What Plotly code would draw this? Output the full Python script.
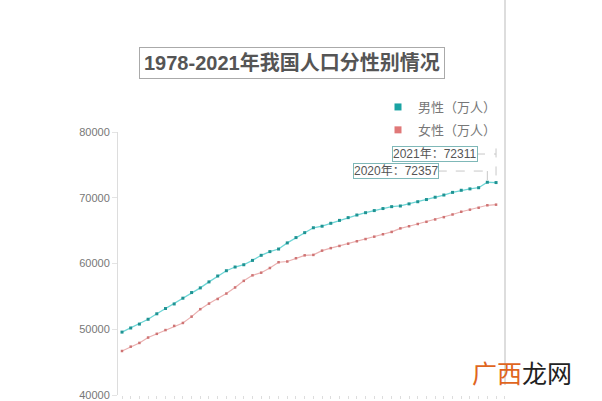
import plotly.graph_objects as go

years = list(range(1978, 2022))
male = [49567, 50192, 50785, 51519, 52352, 53152, 53848, 54725, 55581, 56290,
        57201, 58099, 58904, 59466, 59811, 60472, 61246, 61808, 62200, 63131,
        63940, 64692, 65437, 65672, 66115, 66556, 66976, 67375, 67728, 68048,
        68357, 68647, 68748, 69068, 69395, 69728, 70079, 70414, 70815, 71137,
        71351, 71527, 72357, 72311]
female = [46692, 47350, 47920, 48737, 49302, 49875, 50509, 50958, 51919, 53054,
          53903, 54605, 55429, 56357, 57360, 58199, 58604, 59315, 60192, 60303,
          60800, 61244, 61306, 61955, 62338, 62671, 63012, 63381, 63720, 64081,
          64445, 64803, 65343, 65667, 66009, 66344, 66703, 67048, 67456, 67871,
          68187, 68478, 68855, 68949]
series_names = ["男性（万人）", "女性（万人）"]
title_text = "1978-2021年我国人口分性别情况"
y_ticks = [40000, 50000, 60000, 70000, 80000]

FONT = "Liberation Sans, Noto Sans CJK SC, sans-serif"
CJK = "Noto Sans CJK SC, sans-serif"
MALE_LINE, MALE_MK = "#6fd6d6", "#1f9393"
FEM_LINE, FEM_MK = "#eab0b0", "#cf7474"

TOP, BOT = 132, 395
H = BOT - TOP
LEFT, RIGHT = 118, 505
W = RIGHT - LEFT


def px(xp):
    return (xp - LEFT) / W


def py(yp):
    return (BOT - yp) / H


fig = go.Figure()
fig.add_trace(go.Scatter(x=years, y=male, mode="lines+markers", showlegend=False,
                         line=dict(color=MALE_LINE, width=1.3),
                         marker=dict(color=MALE_MK, size=3, symbol="square")))
fig.add_trace(go.Scatter(x=years, y=female, mode="lines+markers", showlegend=False,
                         line=dict(color=FEM_LINE, width=1.2),
                         marker=dict(color=FEM_MK, size=2.5, symbol="square")))
# legend entries
fig.add_trace(go.Scatter(x=[None], y=[None], mode="markers", name=series_names[0],
                         legendgroup="m",
                         marker=dict(color="#1aa3a3", size=7, symbol="square")))
fig.add_trace(go.Scatter(x=[None], y=[None], mode="markers", name=series_names[1],
                         legendgroup="f",
                         marker=dict(color="#e07878", size=7, symbol="square")))

annotations = [
    dict(text="<b>" + title_text + "</b>", xref="paper", yref="paper",
         x=px(292), y=py(63.5), xanchor="center", yanchor="middle", showarrow=False,
         font=dict(family=FONT, size=20, color="#555555"),
         bordercolor="#aaaaaa", borderwidth=1, borderpad=4, bgcolor="white"),
    dict(text="2021年：" + str(male[-1]), xref="x", yref="y", x=2014.0, y=76650,
         xanchor="center", yanchor="middle",
         showarrow=False, font=dict(family=FONT, size=12, color="#555555"),
         bordercolor="#7fb8b8", borderwidth=1, borderpad=0, bgcolor="white"),
    dict(text="2020年：" + str(male[-2]), xref="x", yref="y", x=2009.55, y=74060,
         xanchor="center", yanchor="middle",
         showarrow=False, font=dict(family=FONT, size=12, color="#555555"),
         bordercolor="#7fb8b8", borderwidth=1, borderpad=0, bgcolor="white"),
    dict(text="<span style='color:#e0661e'>广西</span>龙网", xref="paper", yref="paper",
         x=px(522), y=py(372), xanchor="center", yanchor="middle", showarrow=False,
         font=dict(family=CJK, size=25, color="#222222")),
]

shapes = [
    dict(type="line", xref="paper", yref="paper", x0=1, x1=1,
         y0=py(0), y1=py(385), line=dict(color="#bbbbbb", width=1)),
    # dashed leader for 2021
    dict(type="line", xref="x", yref="y", x0=2018.7, x1=2021, y0=76650, y1=76650,
         line=dict(color="#c8c8c8", width=1, dash="dash")),
    dict(type="line", xref="x", yref="y", x0=2021, x1=2021, y0=77500, y1=male[-1] + 300,
         line=dict(color="#c8c8c8", width=1, dash="dash")),
    # dashed leader for 2020
    dict(type="line", xref="x", yref="y", x0=2014.3, x1=2020, y0=74060, y1=74060,
         line=dict(color="#c8c8c8", width=1, dash="dash")),
    dict(type="line", xref="x", yref="y", x0=2020, x1=2020, y0=74060, y1=male[-2] + 300,
         line=dict(color="#c8c8c8", width=1, dash="dash")),
]

fig.update_layout(
    width=602, height=401,
    margin=dict(l=LEFT, r=602 - RIGHT, t=TOP, b=401 - BOT, autoexpand=False),
    paper_bgcolor="white", plot_bgcolor="white",
    font=dict(family=FONT, color="#666666"),
    xaxis=dict(range=[1977.54, 2022.03], showgrid=False, zeroline=False,
               showticklabels=False, ticks="outside", ticklen=3, tickcolor="#dddddd",
               dtick=1, showline=False, automargin=False),
    yaxis=dict(range=[40000, 80000], tickvals=y_ticks, tickformat="d",
               showgrid=False, zeroline=False, automargin=False,
               showline=True, linecolor="#dddddd", linewidth=1,
               ticks="outside", ticklen=5, tickcolor="#e4e4e4",
               tickfont=dict(family=FONT, size=11, color="#777777")),
    legend=dict(x=px(378), y=py(92), xanchor="left", yanchor="top",
                font=dict(family=CJK, size=13, color="#777777"),
                traceorder="grouped", tracegroupgap=3, itemwidth=30,
                bgcolor="rgba(0,0,0,0)"),
    annotations=annotations,
    shapes=shapes,
)

fig.write_html("out.html")
